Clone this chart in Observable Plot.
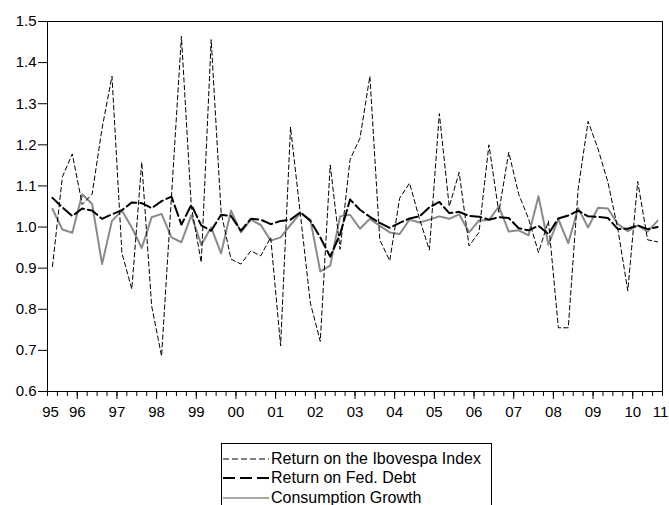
<!DOCTYPE html>
<html>
<head>
<meta charset="utf-8">
<script src="https://cdn.jsdelivr.net/npm/d3@7"></script>
<script src="https://cdn.jsdelivr.net/npm/@observablehq/plot@0.6"></script>
<style>
  html, body { margin: 0; padding: 0; background: #fff; }
  body { width: 669px; height: 505px; overflow: hidden; font-family: "Liberation Sans", Arial, sans-serif; }
  #legend {
    position: absolute; left: 221px; top: 443px; width: 271px; height: 80px;
    border: 1px solid #000; box-sizing: border-box; padding-top: 5px; background: #fff;
  }
  .row { height: 19.5px; display: flex; align-items: center; font-size: 16px; color: #000; white-space: nowrap; }
  .row svg { margin-left: 1px; margin-right: 2px; }
</style>
</head>
<body>
<div id="chart"></div>
<div id="legend"></div>
<script>
// Quarterly observations, 1995Q2 .. 2010Q3 (index 0..61)
const ibovespa = [
  0.904, 1.122, 1.178, 1.055, 1.08, 1.24, 1.367, 0.937, 0.849, 1.158,
  0.808, 0.686, 1.075, 1.464, 1.05, 0.914, 1.456, 1.036, 0.922, 0.910,
  0.942, 0.930, 0.975, 0.711, 1.243, 1.03, 0.815, 0.722, 1.151, 0.946,
  1.164, 1.216, 1.367, 0.969, 0.918, 1.07, 1.107, 1.02, 0.944, 1.276,
  1.05, 1.133, 0.954, 0.987, 1.2, 1.036, 1.182, 1.08, 1.02, 0.938,
  1.015, 0.755, 0.755, 1.093, 1.257, 1.19, 1.109, 0.995, 0.845, 1.111,
  0.969, 0.964
];
const fedDebt = [
  1.071, 1.048, 1.027, 1.045, 1.04, 1.02, 1.031, 1.041, 1.06, 1.058,
  1.046, 1.063, 1.074, 1.006, 1.054, 1.004, 0.991, 1.03, 1.027, 0.991,
  1.02, 1.018, 1.007, 1.015, 1.018, 1.036, 1.015, 0.975, 0.928, 0.983,
  1.067, 1.042, 1.025, 1.01, 0.998, 1.01, 1.021, 1.026, 1.048, 1.061,
  1.034, 1.037, 1.027, 1.025, 1.018, 1.024, 1.022, 0.997, 0.992, 1.003,
  0.983, 1.021, 1.028, 1.04, 1.026, 1.025, 1.022, 0.995, 0.996, 1.004,
  0.995, 1.0
];
const consumption = [
  1.044, 0.994, 0.986, 1.08, 1.056, 0.91, 1.015, 1.04, 0.999, 0.949,
  1.024, 1.032, 0.975, 0.963, 1.029, 0.957, 0.999, 0.936, 1.04, 0.987,
  1.018, 1.005, 0.967, 0.975, 1.005, 1.034, 1.018, 0.892, 0.906, 1.026,
  1.03, 0.996, 1.02, 1.003, 0.987, 0.983, 1.018, 1.011, 1.018, 1.026,
  1.02, 1.031, 0.987, 1.016, 1.017, 1.05, 0.989, 0.992, 0.98, 1.075,
  0.957, 1.019, 0.961, 1.046, 0.999, 1.047, 1.045, 1.007, 0.99, 1.004,
  0.989, 1.015
];
const yearLabels = ["95","96","97","98","99","00","01","02","03","04","05","06","07","08","09","10","11"];
const yearLabelPos = [-0.2, 2.5, 6.5, 10.5, 14.5, 18.5, 22.5, 26.5, 30.5, 34.5, 38.5, 42.5, 46.5, 50.5, 54.5, 58.5, 61.3];
const yTicks = [0.6, 0.7, 0.8, 0.9, 1.0, 1.1, 1.2, 1.3, 1.4, 1.5];
const seriesNames = ["Return on the Ibovespa Index", "Return on Fed. Debt", "Consumption Growth"];

const n = ibovespa.length;
const idx = d3.range(n);
const rows = idx.map(i => ({i, ibov: ibovespa[i], fed: fedDebt[i], cons: consumption[i]}));
const minorTicks = d3.range(-0.5, n, 1);
const majorTicks = yearLabelPos.slice(1, -1);
const labelMap = new Map(yearLabelPos.map((p, k) => [p, yearLabels[k]]));

const styles = [
  {stroke: "#000", strokeWidth: 1, dash: "4.5,3"},
  {stroke: "#000", strokeWidth: 2, dash: "11,4"},
  {stroke: "#8a8a8a", strokeWidth: 2, dash: null}
];

const chart = Plot.plot({
  width: 669,
  height: 430,
  marginLeft: 47,
  marginRight: 7,
  marginTop: 21,
  marginBottom: 39,
  style: {fontFamily: "'Liberation Sans', Arial, sans-serif", fontSize: "15px", color: "#000", background: "#fff"},
  x: {domain: [-0.5, n - 0.5]},
  y: {domain: [0.6, 1.5]},
  marks: [
    Plot.axisY({ticks: yTicks, tickSize: 9, tickPadding: 2, tickFormat: d3.format(".1f"), label: null}),
    Plot.axisX({ticks: minorTicks, tickSize: 5, tickFormat: () => "", label: null}),
    Plot.axisX({ticks: majorTicks, tickSize: 8, tickFormat: () => "", label: null}),
    Plot.axisX({ticks: yearLabelPos, tickSize: 0, tickPadding: 15, tickFormat: d => labelMap.get(d), label: null}),
    Plot.line(rows, {x: "i", y: "cons", stroke: styles[2].stroke, strokeWidth: styles[2].strokeWidth}),
    Plot.line(rows, {x: "i", y: "fed", stroke: styles[1].stroke, strokeWidth: styles[1].strokeWidth, strokeDasharray: styles[1].dash}),
    Plot.line(rows, {x: "i", y: "ibov", stroke: styles[0].stroke, strokeWidth: styles[0].strokeWidth, strokeDasharray: styles[0].dash}),
    Plot.frame({stroke: "#000", strokeWidth: 1})
  ]
});
document.getElementById("chart").appendChild(chart);

const legend = document.getElementById("legend");
seriesNames.forEach((name, k) => {
  const s = styles[k];
  const row = document.createElement("div");
  row.className = "row";
  row.innerHTML = `<svg width="46" height="10"><line x1="0" x2="46" y1="5" y2="5" stroke="${s.stroke}" stroke-width="${k === 2 ? 1.5 : s.strokeWidth}" ${s.dash ? `stroke-dasharray="${k === 0 ? '6,3' : '12,5'}"` : ""}/></svg><span>${name}</span>`;
  legend.appendChild(row);
});
</script>
</body>
</html>
